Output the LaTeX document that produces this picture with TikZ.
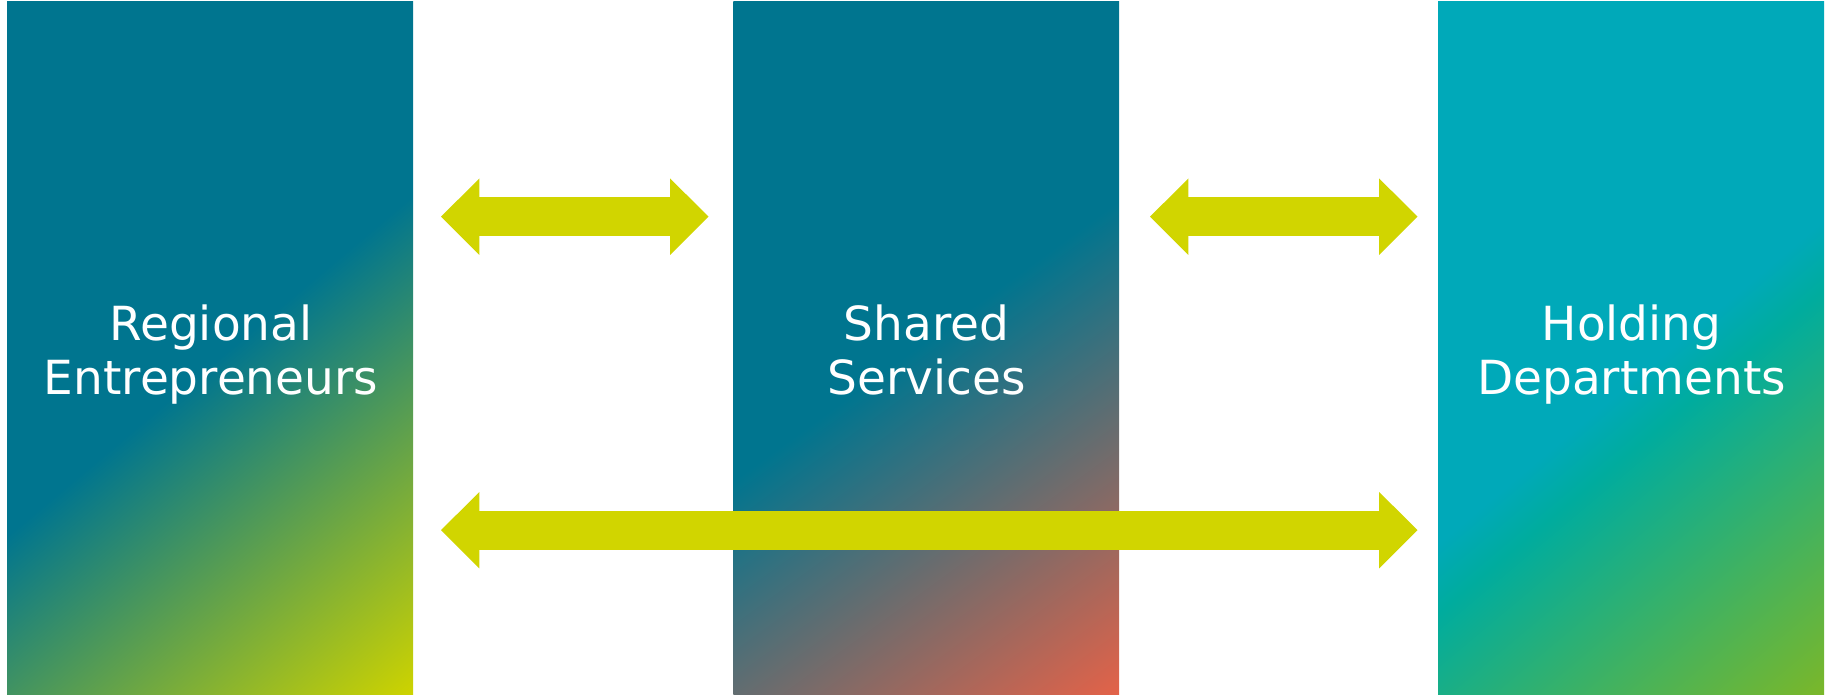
\documentclass[tikz,border=0pt]{standalone}
\usepackage{fontspec}
\setmainfont{DejaVu Sans}
\usetikzlibrary{arrows.meta}
\definecolor{tl}{RGB}{0, 117, 143}
\definecolor{yg}{RGB}{205, 211, 0}
\definecolor{og}{RGB}{228, 98, 72}
\definecolor{cy}{RGB}{0, 169, 185}
\definecolor{tg}{RGB}{0, 172, 158}
\definecolor{gr}{RGB}{122, 183, 42}
\definecolor{aa}{RGB}{209, 213, 0}

% 50bp is the middle of the box, 1bp = 16pt along the gradient
\pgfdeclarehorizontalshading{regional}{100bp}{color(0bp)=(tl); color(50.8bp)=(tl); color(74.7bp)=(yg); color(100bp)=(yg)}
\pgfdeclarehorizontalshading{shared}{100bp}{color(0bp)=(tl); color(49.6bp)=(tl); color(74.6bp)=(og); color(100bp)=(og)}
\pgfdeclarehorizontalshading{holding}{100bp}{color(0bp)=(cy); color(51.6bp)=(cy); color(54.9bp)=(tg); color(74.3bp)=(gr); color(100bp)=(gr)}

\tikzset{
  box/.style 2 args={rectangle, inner sep=0pt, minimum width=386pt, minimum height=693pt,
    path picture={\shade[shading=#1, shading angle=#2]
      ([shift={(-400pt,-400pt)}]path picture bounding box.center) rectangle
      ([shift={(400pt,400pt)}]path picture bounding box.center);}},
  lbl/.style={anchor=north, inner sep=0pt, align=center, text=white, font=\fontsize{47pt}{54.5pt}\selectfont},
  link/.style={line width=38.6pt, color=aa, {Triangle[width=76.4pt, length=38.3pt, line width=0pt]}-{Triangle[width=76.4pt, length=38.3pt, line width=0pt]}}
}

\begin{document}
\begin{tikzpicture}[x=1pt, y=-1pt]
\useasboundingbox (0, 0) rectangle (1831, 695);
\node (re) [box={regional}{-50}, minimum width=406pt] at (210, 348.5) {};
\node (ss) [box={shared}{-54}, minimum width=385.7pt] at (926.2, 348.5) {};
\node (hd) [box={holding}{-50}] at (1631, 348.5) {};
\node (re-t) [lbl] at (211, 304.3) {Regional\\Entrepreneurs};
\node (ss-t) [lbl] at (926.5, 304.3) {Shared\\Services};
\node (hd-t) [lbl] at (1631.5, 304.3) {Holding\\Departments};
\coordinate (re-ss-l) at (441, 216.7);
\coordinate (re-ss-r) at (708.5, 216.7);
\coordinate (ss-hd-l) at (1150, 216.7);
\coordinate (ss-hd-r) at (1417.5, 216.7);
\coordinate (re-hd-l) at (441, 530.2);
\coordinate (re-hd-r) at (1417.5, 530.2);
\draw [link] (re-ss-l) to  (re-ss-r);
\draw [link] (ss-hd-l) to  (ss-hd-r);
\draw [link] (re-hd-l) to  (re-hd-r);
\end{tikzpicture}
\end{document}
